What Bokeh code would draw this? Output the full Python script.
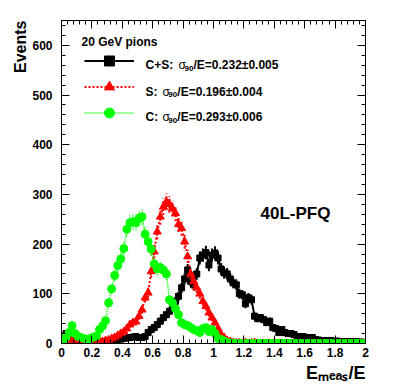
import numpy as np
from bokeh.plotting import figure
from bokeh.models import (ColumnDataSource, Range1d, LinearAxis, FixedTicker, Label,
                          Legend, LegendItem, Title)
from bokeh.embed import file_html
from bokeh.resources import INLINE

# ---------------- data ----------------
x_min, x_max, n_bins = 0.0, 2.0, 100

cs_counts = [5, 20, 22, 12, 5, 4, 3, 2, 3, 2,
             3, 3, 4, 3, 4, 5, 5, 6, 8, 9,
             10, 11, 12, 13, 14, 12, 12, 14, 22, 28,
             32, 38, 45, 52, 58, 65, 75, 85, 95, 112,
             130, 148, 125, 118, 140, 172, 178, 183, 158, 178,
             182, 172, 150, 142, 140, 130, 122, 118, 100, 98,
             80, 92, 88, 55, 50, 52, 48, 42, 45, 32,
             30, 22, 28, 22, 20, 20, 18, 14, 12, 14,
             12, 10, 12, 8, 7, 6, 6, 5, 6, 4,
             5, 4, 4, 3, 4, 3, 4, 3, 3, 2]

s_counts = [3, 8, 12, 6, 3, 2, 1, 2, 1, 2,
            2, 3, 4, 4, 6, 7, 10, 12, 16, 20,
            24, 30, 38, 42, 44, 55, 68, 92, 102, 145,
            185, 225, 255, 275, 285, 280, 272, 262, 240, 232,
            205, 175, 140, 125, 112, 100, 85, 75, 62, 52,
            42, 30, 18, 12, 6, 4, 2, 1, 1, 0,
            2, 0, 1, 2, 0, 0, 0, 0, 0, 0,
            0, 0, 0, 0, 0, 0, 0, 0, 0, 0,
            0, 0, 0, 0, 0, 0, 0, 0, 0, 0,
            0, 0, 0, 0, 0, 0, 0, 0, 0, 0]

c_counts = [5, 12, 22, 36, 20, 14, 12, 10, 6, 10,
            13, 15, 28, 35, 46, 82, 110, 137, 157, 170,
            191, 230, 243, 245, 243, 252, 255, 220, 205, 190,
            160, 150, 153, 148, 140, 88, 82, 70, 58, 42,
            38, 36, 32, 28, 26, 22, 30, 32, 24, 28,
            20, 10, 8, 5, 2, 1, 0, 0, 0, 0,
            0, 0, 0, 0, 0, 0, 0, 0, 0, 0,
            0, 0, 0, 0, 0, 0, 0, 0, 0, 0,
            0, 0, 0, 0, 0, 0, 0, 0, 0, 0,
            0, 0, 0, 0, 0, 0, 0, 0, 0, 0]

x_ticks = [0, 0.2, 0.4, 0.6, 0.8, 1.0, 1.2, 1.4, 1.6, 1.8, 2.0]
x_tick_labels = ["0", "0.2", "0.4", "0.6", "0.8", "1", "1.2", "1.4", "1.6", "1.8", "2"]
y_ticks = [0, 100, 200, 300, 400, 500, 600]
y_tick_labels = ["0", "100", "200", "300", "400", "500", "600"]

legend_header = "20 GeV pions"
legend_names = ["C+S:", "S:", "C:"]
legend_values = ["/E=0.232\u00b10.005", "/E=0.196\u00b10.004", "/E=0.293\u00b10.006"]
tag_text = "40L-PFQ"
x_title = "E\u2098\u2091\u2090\u209b/E"
y_title = "Events"

# ---------------- figure ----------------
FONT = "Liberation Sans"
edges = np.linspace(x_min, x_max, n_bins + 1)
centers = 0.5 * (edges[:-1] + edges[1:])

p = figure(frame_width=304, frame_height=323, output_backend="svg", toolbar_location=None,
           x_range=Range1d(0, 2), y_range=Range1d(0, 650),
           min_border_left=61, min_border_right=40, min_border_top=20, min_border_bottom=45)
p.xgrid.visible = False
p.ygrid.visible = False
p.outline_line_color = None
p.background_fill_color = "white"
p.border_fill_color = "white"

x_minor = [round(v, 2) for v in np.arange(0, 2.0001, 0.04)]
y_minor = list(range(0, 651, 20))


def style_axis(ax, ticks, minor, show_labels):
    ax.ticker = FixedTicker(ticks=ticks, minor_ticks=minor)
    ax.axis_line_color = "black"
    ax.axis_line_width = 1
    ax.major_tick_in = 8
    ax.major_tick_out = 0
    ax.minor_tick_in = 4
    ax.minor_tick_out = 0
    ax.major_tick_line_color = "black"
    ax.minor_tick_line_color = "black"
    ax.major_label_text_font = FONT
    ax.major_label_text_font_style = "bold"
    ax.major_label_text_color = "black"
    if not show_labels:
        ax.major_label_text_color = None
        ax.major_label_text_font_size = "1px"
        ax.major_label_standoff = 0


xb = p.xaxis[0]
style_axis(xb, x_ticks, x_minor, True)
xb.major_label_text_font_size = "12px"
xb.major_label_standoff = 4
xb.major_label_overrides = {t: l for t, l in zip(x_ticks, x_tick_labels)}

yl = p.yaxis[0]
style_axis(yl, y_ticks, y_minor, True)
yl.major_label_text_font_size = "12px"
yl.major_label_standoff = 9
yl.major_label_overrides = {t: l for t, l in zip(y_ticks, y_tick_labels)}

xt = LinearAxis()
style_axis(xt, x_ticks, x_minor, False)
p.add_layout(xt, "above")
yr = LinearAxis()
style_axis(yr, y_ticks, y_minor, False)
p.add_layout(yr, "right")

# axis titles (ROOT style: aligned to the axis end)
p.add_layout(Title(text=y_title, align="right", text_font=FONT, text_font_size="16px",
                   text_font_style="bold", text_color="black", standoff=2), "left")
p.add_layout(Title(text=x_title, align="right", text_font=FONT, text_font_size="18px",
                   text_font_style="bold", text_color="black", standoff=2), "below")


def draw(counts, color, dash, lw, marker, size):
    c = np.array(counts, dtype=float)
    err = np.sqrt(c)
    src = ColumnDataSource(dict(x=centers, y=c, lo=c - err, hi=c + err))
    p.segment(x0="x", y0="lo", x1="x", y1="hi", source=src, line_color=color,
              line_width=lw, line_dash=dash)
    lr = p.line("x", "y", source=src, line_color=color, line_width=lw, line_dash=dash)
    sr = p.scatter("x", "y", source=src, marker=marker, size=size,
                   fill_color=color, line_color=color)
    return lr, sr


r_cs = draw(cs_counts, "black", "solid", 2, "square", 6)
r_s = draw(s_counts, "#ff0000", "2 2", 2, "triangle", 8)
r_c = draw(c_counts, "#00ff00", "1 1", 1.5, "circle", 8)

legend = Legend(items=[LegendItem(label=" ", renderers=list(r_cs)),
                       LegendItem(label=" ", renderers=list(r_s)),
                       LegendItem(label=" ", renderers=list(r_c))],
                location=(23, 218), glyph_width=50, glyph_height=25, label_height=25,
                label_width=0, spacing=1, padding=0, margin=0, label_standoff=0,
                border_line_color=None, background_fill_alpha=0,
                label_text_font_size="1px")
p.add_layout(legend, "center")


def lab(x, y, text, size, bold=True, **kw):
    p.add_layout(Label(x=x, y=y, text=text, text_font=FONT,
                       text_font_size=size, text_font_style="bold" if bold else "normal",
                       text_color="black", text_baseline="alphabetic", **kw))


lab(0.1316, 605.8, legend_header, "12px")
base_y = [559.5, 507.1, 454.8]
sig_x = [0.770, 0.664, 0.664]
sub_x = [0.809, 0.703, 0.703]
val_x = [0.868, 0.762, 0.762]
for i in range(3):
    lab(0.553, base_y[i], legend_names[i], "12px")
    lab(sig_x[i], base_y[i], "\u03c3", "12px", bold=False)
    lab(sub_x[i], base_y[i] - 6, "90", "8px")
    lab(val_x[i], base_y[i], legend_values[i], "12px")

lab(1.309, 261.6, tag_text, "17px")

open("out.html", "w").write(file_html(p, INLINE))
